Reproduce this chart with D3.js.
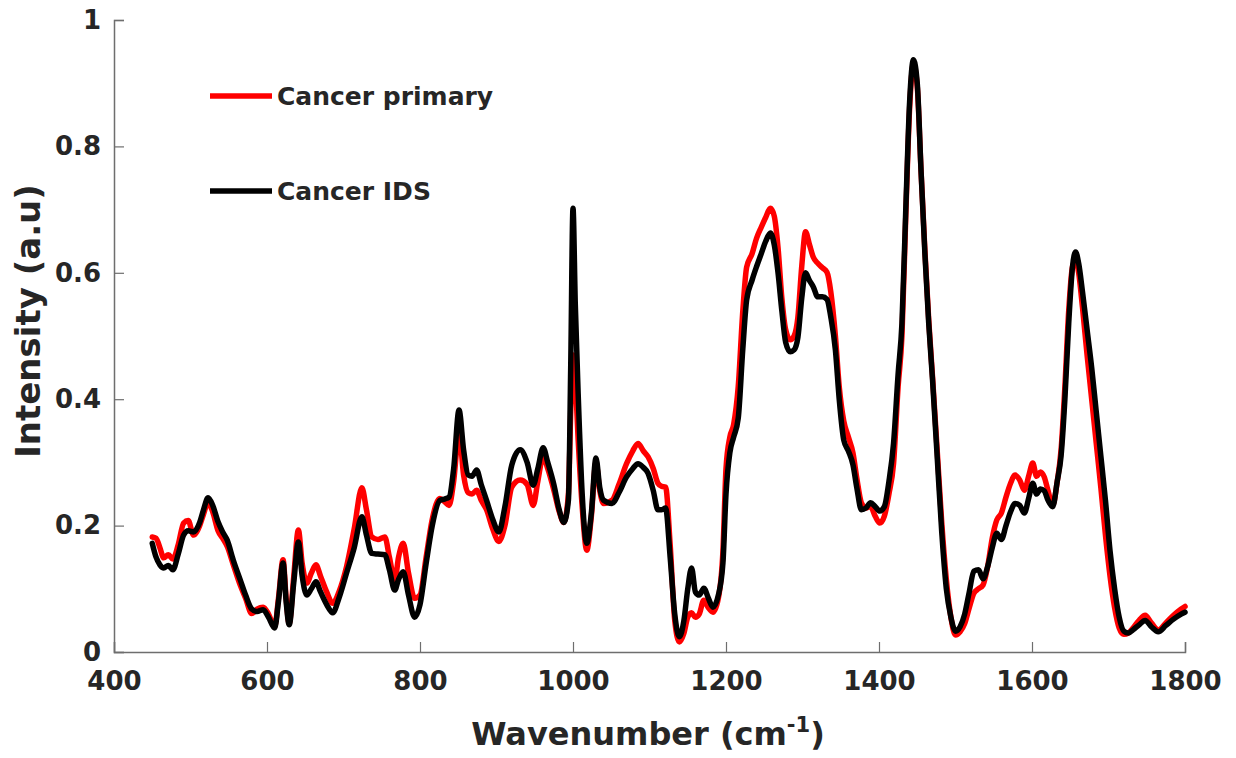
<!DOCTYPE html>
<html><head><meta charset="utf-8">
<script src="https://cdn.jsdelivr.net/npm/d3@7"></script>
<style>
html,body{margin:0;padding:0;background:#fff;}
text{font-family:"DejaVu Sans",sans-serif;font-weight:bold;fill:#262626;}
</style></head>
<body><svg id="c" width="1236" height="758"></svg>
<script>
const wavenumbers = [450,455,460,465,471,477,484,491,497,504,512,517,523,529,536,542,548,556,565,572,580,587,595,602,610,615,621,625,629,635,641,646,652,658,664,670,678,686,694,704,714,724,730,737,745,754,760,767,772,778,785,793,800,808,816,826,832,838,844,851,857,863,868,874,880,887,895,903,911,920,931,940,948,954,961,967,975,982,988,994,997,1000,1003,1007,1012,1018,1024,1030,1035,1040,1051,1060,1070,1078,1085,1092,1098,1105,1111,1116,1121,1127,1133,1139,1145,1150,1155,1160,1165,1171,1177,1183,1190,1196,1200,1205,1210,1216,1222,1227,1234,1240,1246,1252,1258,1263,1268,1273,1278,1284,1289,1294,1299,1304,1309,1314,1320,1326,1332,1337,1343,1348,1354,1360,1366,1371,1377,1383,1389,1395,1401,1407,1413,1419,1425,1430,1435,1440,1445,1450,1455,1460,1465,1470,1476,1482,1488,1494,1500,1506,1512,1518,1524,1530,1536,1542,1548,1554,1560,1566,1572,1578,1584,1590,1596,1601,1606,1611,1616,1621,1627,1633,1638,1643,1648,1653,1657,1661,1666,1672,1678,1684,1690,1696,1702,1708,1714,1720,1726,1732,1740,1748,1756,1765,1775,1785,1795,1800];

const cancerPrimary = [0.182,0.180,0.165,0.149,0.154,0.147,0.170,0.204,0.208,0.185,0.200,0.218,0.236,0.222,0.192,0.180,0.167,0.138,0.106,0.085,0.061,0.068,0.071,0.060,0.040,0.085,0.146,0.085,0.045,0.120,0.193,0.140,0.109,0.125,0.138,0.120,0.095,0.077,0.095,0.135,0.195,0.260,0.225,0.182,0.178,0.182,0.150,0.114,0.150,0.172,0.125,0.085,0.090,0.150,0.210,0.243,0.238,0.232,0.270,0.347,0.280,0.252,0.250,0.256,0.240,0.225,0.195,0.175,0.200,0.261,0.272,0.265,0.232,0.270,0.309,0.290,0.256,0.222,0.205,0.250,0.380,0.470,0.430,0.330,0.230,0.161,0.215,0.300,0.255,0.235,0.240,0.265,0.298,0.318,0.330,0.318,0.309,0.290,0.267,0.262,0.261,0.170,0.050,0.016,0.030,0.055,0.062,0.055,0.060,0.082,0.070,0.063,0.085,0.160,0.290,0.340,0.360,0.420,0.540,0.609,0.630,0.655,0.672,0.688,0.702,0.690,0.640,0.560,0.510,0.494,0.500,0.530,0.610,0.665,0.645,0.625,0.615,0.608,0.601,0.570,0.500,0.420,0.365,0.340,0.315,0.275,0.236,0.228,0.230,0.215,0.204,0.215,0.250,0.298,0.420,0.500,0.690,0.860,0.930,0.895,0.760,0.635,0.525,0.435,0.320,0.205,0.115,0.055,0.027,0.032,0.045,0.070,0.093,0.100,0.106,0.135,0.180,0.209,0.220,0.245,0.267,0.280,0.272,0.256,0.280,0.299,0.278,0.285,0.277,0.255,0.232,0.270,0.320,0.420,0.540,0.610,0.620,0.600,0.545,0.470,0.400,0.330,0.260,0.185,0.120,0.070,0.038,0.028,0.030,0.038,0.050,0.058,0.046,0.035,0.046,0.058,0.068,0.072];

const cancerIDS = [0.172,0.150,0.138,0.133,0.137,0.130,0.155,0.185,0.192,0.190,0.205,0.225,0.244,0.232,0.206,0.190,0.177,0.145,0.114,0.090,0.068,0.064,0.067,0.055,0.038,0.080,0.141,0.080,0.043,0.110,0.174,0.120,0.090,0.100,0.111,0.095,0.075,0.062,0.085,0.125,0.165,0.214,0.185,0.156,0.155,0.154,0.130,0.098,0.115,0.127,0.090,0.055,0.075,0.140,0.200,0.240,0.242,0.245,0.290,0.383,0.320,0.280,0.278,0.288,0.265,0.240,0.210,0.190,0.230,0.296,0.320,0.300,0.264,0.290,0.323,0.300,0.265,0.225,0.205,0.240,0.450,0.702,0.550,0.400,0.250,0.172,0.220,0.307,0.260,0.240,0.235,0.252,0.277,0.290,0.298,0.292,0.283,0.255,0.225,0.225,0.228,0.150,0.060,0.024,0.050,0.100,0.133,0.095,0.090,0.101,0.085,0.071,0.090,0.141,0.250,0.315,0.340,0.370,0.480,0.557,0.588,0.610,0.630,0.650,0.663,0.645,0.600,0.540,0.490,0.475,0.478,0.498,0.560,0.600,0.588,0.578,0.562,0.562,0.558,0.530,0.478,0.400,0.335,0.318,0.296,0.260,0.225,0.228,0.236,0.230,0.223,0.230,0.270,0.330,0.440,0.520,0.700,0.870,0.937,0.900,0.760,0.630,0.520,0.430,0.310,0.190,0.100,0.055,0.033,0.040,0.060,0.095,0.128,0.130,0.116,0.135,0.165,0.188,0.178,0.200,0.222,0.235,0.232,0.220,0.245,0.267,0.250,0.258,0.255,0.240,0.230,0.270,0.310,0.400,0.520,0.610,0.633,0.615,0.570,0.510,0.450,0.380,0.310,0.240,0.160,0.100,0.055,0.033,0.030,0.035,0.043,0.050,0.040,0.032,0.042,0.052,0.060,0.063];

const xTicks = [400,600,800,1000,1200,1400,1600,1800];
const yTicks = [0,0.2,0.4,0.6,0.8,1];
const seriesNames = ["Cancer primary","Cancer IDS"];
const seriesColors = ["#ff0000","#000000"];

const svg = d3.select("#c");
const x = d3.scaleLinear().domain([400,1800]).range([114,1185]);
const y = d3.scaleLinear().domain([0,1]).range([652,20]);

// axes
const xAxis = svg.append("g").attr("transform","translate(0,652)")
  .call(d3.axisBottom(x).tickValues(xTicks).tickSize(-10).tickPadding(20).tickFormat(d3.format("d")));
const yAxis = svg.append("g").attr("transform","translate(114,0)")
  .call(d3.axisLeft(y).tickValues(yTicks).tickSize(-10).tickPadding(13).tickFormat(d=>d===0?"0":d===1?"1":d3.format(".1f")(d)));
[xAxis,yAxis].forEach(a=>{
  a.select(".domain").attr("stroke","#6e6e6e").attr("stroke-width",1.5);
  a.selectAll(".tick line").attr("stroke","#6e6e6e").attr("stroke-width",1.2);
  a.selectAll(".tick text").style("font-size","26px").attr("fill","#262626");
});
xAxis.selectAll(".tick text").attr("dy","0.71em");

// lines
const line = d3.line().x((d,i)=>x(wavenumbers[i])).y(d=>y(d)).curve(d3.curveMonotoneX);
[cancerPrimary,cancerIDS].forEach((s,k)=>{
  svg.append("path").datum(s).attr("d",line).attr("fill","none")
    .attr("stroke",seriesColors[k]).attr("stroke-width",5.5).attr("stroke-linejoin","round").attr("stroke-linecap","round");
});

// legend
const legY = [96,191];
seriesNames.forEach((n,k)=>{
  svg.append("line").attr("x1",210).attr("x2",272).attr("y1",legY[k]).attr("y2",legY[k])
    .attr("stroke",seriesColors[k]).attr("stroke-width",5.5);
  svg.append("text").attr("x",277).attr("y",legY[k]+9).style("font-size","25px").text(n);
});

// axis titles
const xt = svg.append("text").attr("x",648).attr("y",745).attr("text-anchor","middle").style("font-size","32px");
xt.append("tspan").text("Wavenumber (cm");
xt.append("tspan").attr("dy",-13).style("font-size","21px").text("-1");
xt.append("tspan").attr("dy",13).text(")");

svg.append("text").attr("transform","translate(40,321) rotate(-90)").attr("text-anchor","middle")
  .style("font-size","34px").text("Intensity (a.u)");
</script></body></html>
